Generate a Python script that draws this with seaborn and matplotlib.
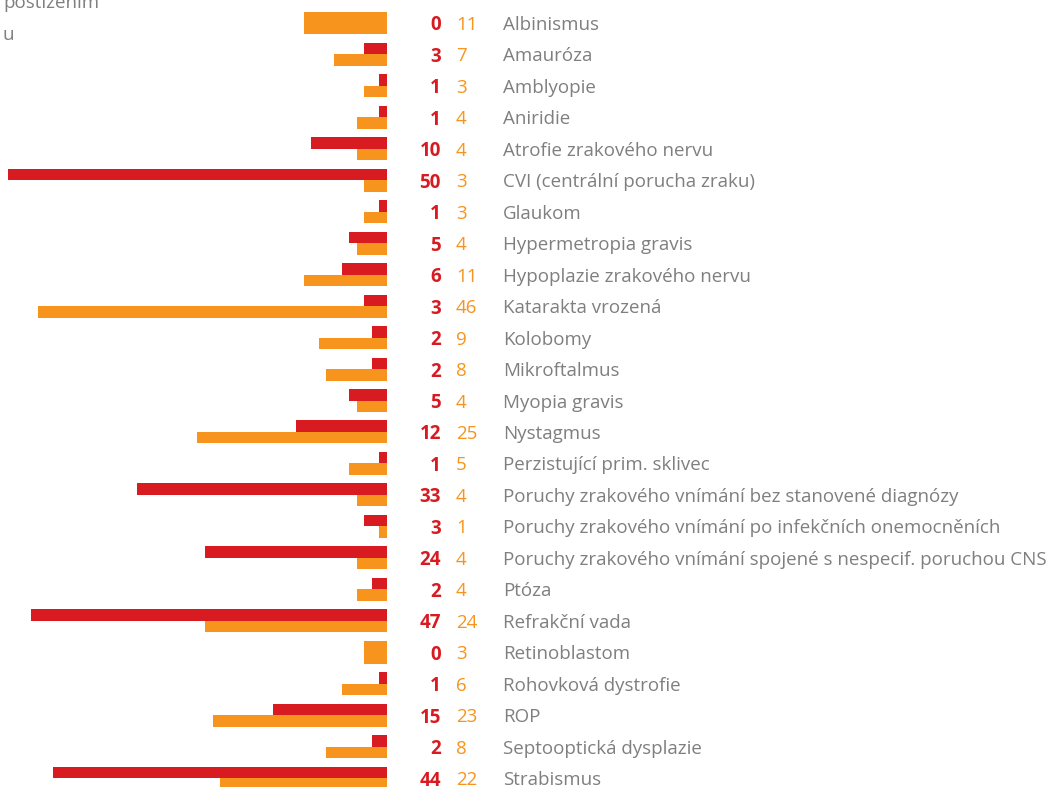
#!/usr/bin/env python3
import pandas as pd
import seaborn as sns
import matplotlib.transforms as mtransforms
from matplotlib import pyplot as plt

diagnoses = ["Albinismus", "Amauróza", "Amblyopie", "Aniridie", "Atrofie zrakového nervu",
             "CVI (centrální porucha zraku)", "Glaukom", "Hypermetropia gravis",
             "Hypoplazie zrakového nervu", "Katarakta vrozená", "Kolobomy", "Mikroftalmus",
             "Myopia gravis", "Nystagmus", "Perzistující prim. sklivec",
             "Poruchy zrakového vnímání bez stanovené diagnózy",
             "Poruchy zrakového vnímání po infekčních onemocněních",
             "Poruchy zrakového vnímání spojené s nespecif. poruchou CNS",
             "Ptóza", "Refrakční vada", "Retinoblastom", "Rohovková dystrofie", "ROP",
             "Septooptická dysplazie", "Strabismus"]
red_values = [0, 3, 1, 1, 10, 50, 1, 5, 6, 3, 2, 2, 5, 12, 1, 33, 3, 24, 2, 47, 0, 1, 15, 2, 44]
orange_values = [11, 7, 3, 4, 4, 3, 3, 4, 11, 46, 9, 8, 4, 25, 5, 4, 1, 4, 4, 24, 3, 6, 23, 8, 22]

RED = "#d81b21"
ORANGE = "#f7941d"
GRAY = "#7f7f7f"

W, H = 1063, 787
PX_PER_UNIT = 7.58
ROW_TOP, ROW_STEP = 23, 31.46
FS = 13.5

plt.rcParams["font.family"] = ["Open Sans", "DejaVu Sans"]

df = pd.DataFrame({
    "Diagnóza": diagnoses * 2,
    "Počet": red_values + orange_values,
    "Skupina": ["red"] * len(diagnoses) + ["orange"] * len(diagnoses),
})

fig = plt.figure(figsize=(W / 100, H / 100), dpi=100)
ax = fig.add_axes([0, 0, 387 / W, 1])

sns.barplot(df, y="Diagnóza", x="Počet", hue="Skupina", order=diagnoses,
            hue_order=["red", "orange"], palette={"red": RED, "orange": ORANGE},
            width=0.731, dodge=True, legend=False, errorbar=None, saturation=1, ax=ax)

# orange bar fills the whole row where the red value is zero
n = len(diagnoses)
orange_bars = ax.patches[n:2 * n]
for bar, r in zip(orange_bars, red_values):
    bar.set_linewidth(0)
    if r == 0:
        h = bar.get_height()
        bar.set_y(bar.get_y() - h)
        bar.set_height(2 * h)
for bar in ax.patches[:n]:
    bar.set_linewidth(0)

ax.set_xlim(387 / PX_PER_UNIT, 0)
ax.set_ylim((H - ROW_TOP) / ROW_STEP, -ROW_TOP / ROW_STEP)
ax.axis("off")

trans = mtransforms.blended_transform_factory(fig.transFigure, ax.transData)
for i, (name, r, o) in enumerate(zip(diagnoses, red_values, orange_values)):
    fig.text(441 / W, i, str(r), transform=trans, ha="right", va="center_baseline",
             color=RED, fontsize=FS, fontweight="bold")
    fig.text(456 / W, i, str(o), transform=trans, ha="left", va="center_baseline",
             color=ORANGE, fontsize=FS)
    fig.text(503 / W, i, name, transform=trans, ha="left", va="center_baseline",
             color=GRAY, fontsize=FS)

# cut-off legend text in the top left corner
fig.text(3 / W, 1 - 8 / H, "postižením", ha="left", va="baseline",
         color=GRAY, fontsize=FS)
fig.text(3 / W, 1 - 40 / H, "u", ha="left", va="baseline",
         color=GRAY, fontsize=FS)

fig.savefig("out.png", dpi=100)
plt.close(fig)
